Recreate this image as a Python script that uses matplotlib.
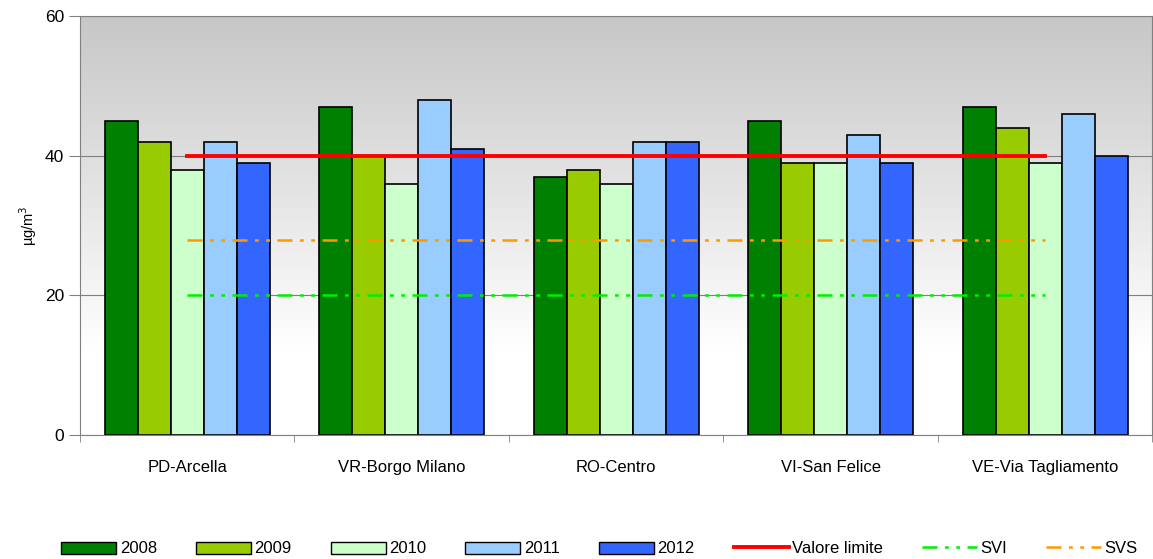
import numpy as np
import matplotlib.pyplot as plt
from matplotlib.patches import Patch
from matplotlib.lines import Line2D

plt.rcParams['font.family'] = ['Liberation Sans', 'DejaVu Sans']

stations = ['PD-Arcella', 'VR-Borgo Milano', 'RO-Centro', 'VI-San Felice', 'VE-Via Tagliamento']
years = ['2008', '2009', '2010', '2011', '2012']
v2008 = [45, 47, 37, 45, 47]
v2009 = [42, 40, 38, 39, 44]
v2010 = [38, 36, 36, 39, 39]
v2011 = [42, 48, 42, 43, 46]
v2012 = [39, 41, 42, 39, 40]
valore_limite = 40
svi = 20
svs = 28

series = [v2008, v2009, v2010, v2011, v2012]
colors = ['#008000', '#99cc00', '#ccffcc', '#99ccff', '#3366ff']

fig = plt.figure(figsize=(11.53, 5.59), dpi=100)
ax = fig.add_axes([0.0694, 0.2218, 0.930, 0.749])

# gradient background
grad = np.linspace(0, 1, 256).reshape(-1, 1)
vals = np.clip((grad * 60 - 12) / 48, 0, 1)  # 0 at bottom, 1 at top
col = 1 - vals * 0.22
img = np.dstack([col, col, col])
ax.imshow(img, extent=[-0.5, 4.5, 0, 60], origin='lower', aspect='auto', zorder=0)

x = np.arange(len(stations))
w = 0.154
for i, (s, c) in enumerate(zip(series, colors)):
    ax.bar(x + (i - 2) * w, s, w, color=c, edgecolor='black', linewidth=1.2, zorder=2)

dd = [6, 3, 1.5, 3, 1.5, 3]
ax.plot([x[0], x[-1]], [valore_limite] * 2, color='#ff0000', lw=2.8, zorder=3)
ax.plot([x[0], x[-1]], [svi] * 2, color='#00ee00', lw=1.8, dashes=dd, zorder=3)
ax.plot([x[0], x[-1]], [svs] * 2, color='#ff9900', lw=1.8, dashes=dd, zorder=3)

ax.set_xlim(-0.5, 4.5)
ax.set_ylim(0, 60)
ax.set_yticks([0, 20, 40, 60])
ax.yaxis.grid(True, color='#808080', lw=0.8, zorder=1)
ax.set_axisbelow(True)
ax.set_xticks(x)
ax.set_xticklabels(stations, fontsize=12)
ax.set_xticks(np.arange(-0.5, 4.6, 1), minor=True)
ax.tick_params(axis='x', which='major', length=0, pad=18)
ax.tick_params(axis='x', which='minor', length=5, color='#808080')
ax.tick_params(axis='y', labelsize=12.5, length=8, color='#808080')
ax.set_ylabel('µg/m$^3$', fontsize=10.5)
for sp in ax.spines.values():
    sp.set_color('#808080')

handles = [Patch(facecolor=c, edgecolor='black', label=y) for c, y in zip(colors, years)]
handles += [Line2D([], [], color='#ff0000', lw=2.8, label='Valore limite'),
            Line2D([], [], color='#00ee00', lw=1.8, dashes=dd, label='SVI'),
            Line2D([], [], color='#ff9900', lw=1.8, dashes=dd, label='SVS')]
fig.legend(handles=handles, loc='center', bbox_to_anchor=(0.52, 0.018), ncol=8, frameon=False,
           fontsize=12, handlelength=3.3, handleheight=0.75, handletextpad=0.2, columnspacing=2.35)

plt.savefig('out.png')
